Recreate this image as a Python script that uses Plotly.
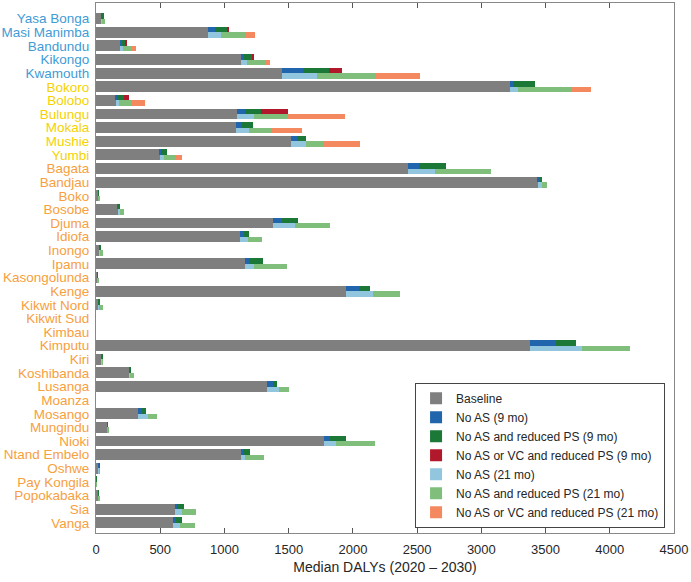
import numpy as np
import plotly.graph_objects as go

districts = ["Yasa Bonga", "Masi Manimba", "Bandundu", "Kikongo", "Kwamouth",
             "Bokoro", "Bolobo", "Bulungu", "Mokala", "Mushie", "Yumbi",
             "Bagata", "Bandjau", "Boko", "Bosobe", "Djuma", "Idiofa", "Inongo",
             "Ipamu", "Kasongolunda", "Kenge", "Kikwit Nord", "Kikwit Sud",
             "Kimbau", "Kimputu", "Kiri", "Koshibanda", "Lusanga", "Moanza",
             "Mosango", "Mungindu", "Nioki", "Ntand Embelo", "Oshwe",
             "Pay Kongila", "Popokabaka", "Sia", "Vanga"]
province = ["blue"] * 5 + ["yellow"] * 6 + ["orange"] * 27

# Median DALYs (2020-2030) under each scenario
baseline = [42, 872, 184, 1131, 1451, 3225, 153, 1095, 1087, 1521, 498,
            2426, 3438, 18, 169, 1375, 1124, 26, 1157, 8, 1948, 18, 0,
            0, 3378, 44, 257, 1331, 0, 325, 86, 1772, 1126, 23, 2, 18, 613, 597]
no_as_9 = [46, 926, 202, 1152, 1611, 3246, 166, 1157, 1134, 1567, 506,
           2517, 3453, 19, 179, 1448, 1152, 29, 1194, 9, 2047, 22, 0,
           0, 3578, 46, 262, 1378, 0, 361, 88, 1819, 1144, 24, 2, 19, 633, 620]
no_as_ps_9 = [60, 1017, 231, 1222, 1814, 3415, 216, 1287, 1220, 1634, 550,
              2727, 3469, 21, 190, 1572, 1191, 37, 1297, 12, 2136, 34, 0,
              0, 3736, 50, 272, 1409, 0, 387, 93, 1943, 1202, 27, 3, 22, 683, 672]
no_as_vc_ps_9 = [60, 1038, 241, 1227, 1912, 3415, 257, 1494, 1220, 1634, 550,
                 2727, 3469, 21, 190, 1572, 1191, 37, 1297, 12, 2136, 34, 0,
                 0, 3736, 50, 272, 1409, 0, 387, 93, 1943, 1202, 27, 3, 22, 683, 672]
no_as_21 = [46, 973, 213, 1178, 1718, 3283, 177, 1227, 1191, 1632, 529,
            2641, 3469, 20, 190, 1552, 1183, 32, 1233, 10, 2154, 26, 0,
            0, 3783, 47, 268, 1427, 0, 402, 90, 1871, 1163, 25, 2, 20, 669, 657]
no_as_ps_21 = [73, 1163, 275, 1318, 2174, 3703, 280, 1490, 1373, 1770, 620,
               3077, 3513, 26, 216, 1824, 1290, 58, 1487, 19, 2364, 52, 0,
               0, 4154, 54, 296, 1502, 0, 478, 101, 2174, 1311, 31, 4, 26, 776, 768]
no_as_vc_ps_21 = [73, 1240, 309, 1352, 2519, 3856, 384, 1941, 1603, 2058, 667,
                  3077, 3513, 26, 216, 1824, 1290, 58, 1487, 19, 2364, 52, 0,
                  0, 4154, 54, 296, 1502, 0, 478, 101, 2174, 1311, 31, 4, 26, 776, 768]

x_ticks = [0, 500, 1000, 1500, 2000, 2500, 3000, 3500, 4000, 4500]

label_colors = {"blue": "#3f9bd6", "yellow": "#f5d200", "orange": "#f7a040"}
colors = {
    "Baseline": "#7f7f7f",
    "No AS (9 mo)": "#2166ac",
    "No AS and reduced PS (9 mo)": "#1b7837",
    "No AS or VC and reduced PS (9 mo)": "#b2182b",
    "No AS (21 mo)": "#92c5de",
    "No AS and reduced PS (21 mo)": "#7fbf7b",
    "No AS or VC and reduced PS (21 mo)": "#f4895f",
}

n = len(districts)
idx = np.arange(n)
top = idx - 0.2
bot = idx + 0.2
base = np.array(baseline, float)

fig = go.Figure()
fig.add_trace(go.Bar(
    name="Baseline", orientation="h",
    y=np.concatenate([top, bot]), x=np.concatenate([base, base]),
    width=0.4, marker=dict(color=colors["Baseline"], line=dict(width=0)),
))

def add_series(levels, names, ypos):
    prev = base
    for lev, nm in zip(levels, names):
        lev = np.array(lev, float)
        seg = np.maximum(lev - prev, 0)
        fig.add_trace(go.Bar(
            name=nm, orientation="h", y=ypos, x=seg, width=0.4,
            marker=dict(color=colors[nm], line=dict(width=0)),
        ))
        prev = lev

add_series([no_as_9, no_as_ps_9, no_as_vc_ps_9],
           ["No AS (9 mo)", "No AS and reduced PS (9 mo)", "No AS or VC and reduced PS (9 mo)"], top)
add_series([no_as_21, no_as_ps_21, no_as_vc_ps_21],
           ["No AS (21 mo)", "No AS and reduced PS (21 mo)", "No AS or VC and reduced PS (21 mo)"], bot)

ticktext = [f'<span style="color:{label_colors[p]}">{d}</span>' for d, p in zip(districts, province)]

fig.update_layout(
    barmode="stack",
    width=691, height=582,
    margin=dict(l=96, r=17, t=3, b=49, autoexpand=False),
    paper_bgcolor="white", plot_bgcolor="white",
    font=dict(family="Liberation Sans, Arial, sans-serif", size=13, color="#262626"),
    bargap=0,
    legend=dict(x=0.552, y=0.01, xanchor="left", yanchor="bottom",
                bgcolor="white", bordercolor="#444", borderwidth=1,
                font=dict(size=12, color="#262626"), traceorder="normal",
                tracegroupgap=0, itemwidth=30),
    xaxis=dict(range=[0, 4500], tickvals=x_ticks, ticks="inside", ticklen=5,
               tickcolor="#555", showline=True, linecolor="#888", linewidth=1,
               mirror="ticks", showgrid=False, zeroline=False, automargin=False,
               ticklabelstandoff=4,
               title=dict(text="Median DALYs (2020 – 2030)", standoff=6,
                          font=dict(size=14)),
               tickfont=dict(size=13)),
    yaxis=dict(range=[37.75, -1.15], tickvals=list(idx), ticktext=ticktext,
               ticks="outside", ticklen=3, tickcolor="rgba(0,0,0,0)",
               showline=True, linecolor="#888", linewidth=1, automargin=False,
               mirror=True, showgrid=False, zeroline=False,
               tickfont=dict(size=13.5)),
)

fig.write_html("out.html", config={"displayModeBar": False},
               post_script="document.body.style.margin='0px';")
